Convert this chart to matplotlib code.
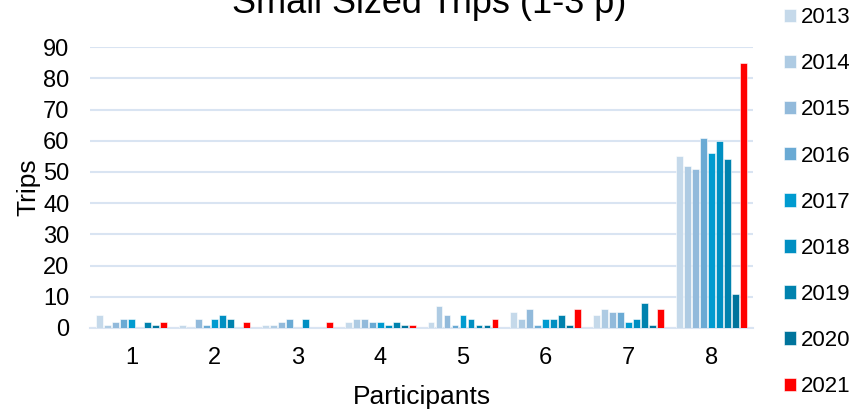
import numpy as np
import matplotlib
matplotlib.use('Agg')
from matplotlib import pyplot as plt

plt.rcParams['font.family'] = ['Liberation Sans', 'DejaVu Sans']

participants = ['1', '2', '3', '4', '5', '6', '7', '8']
years = ['2013', '2014', '2015', '2016', '2017', '2018', '2019', '2020', '2021']

# trips per participant, one list per year
trips = {
    '2013': [4, 1, 1, 2, 2, 5, 4, 55],
    '2014': [1, 0, 1, 3, 7, 3, 6, 52],
    '2015': [2, 3, 2, 3, 4, 6, 5, 51],
    '2016': [3, 1, 3, 2, 1, 1, 5, 61],
    '2017': [3, 3, 0, 2, 4, 3, 2, 56],
    '2018': [0, 4, 3, 1, 3, 3, 3, 60],
    '2019': [2, 3, 0, 2, 1, 4, 8, 54],
    '2020': [1, 0, 0, 1, 1, 1, 1, 11],
    '2021': [2, 2, 2, 1, 3, 6, 6, 85],
}
colors = ['#c5d9ea', '#aecbe3', '#92badb', '#6aaad4', '#009bd0',
          '#008fc2', '#0082ae', '#00749c', '#ff0000']

fig = plt.figure(figsize=(8.58, 4.11), dpi=100)
ax = fig.add_axes([0.105, 0.202, 0.7726, 0.6834])

x = np.arange(len(participants))
step = 0.0965
for i, yr in enumerate(years):
    offs = (i - (len(years) - 1) / 2.) * step
    ax.bar(x + offs, trips[yr], width=step * 0.86, color=colors[i],
           edgecolor='white', linewidth=0.4, label=yr, zorder=3)

ax.set_xlim(-0.5, len(participants) - 0.5)
ax.set_ylim(0, 90)
ax.set_yticks(range(0, 91, 10))
ax.set_xticks(x)
ax.set_xticklabels(participants)
ax.yaxis.grid(True, color='#d9e4f2', linewidth=1.5, zorder=0)
for s in ['top', 'right', 'left']:
    ax.spines[s].set_visible(False)
ax.spines['bottom'].set_color('#d9e4f2')
ax.spines['bottom'].set_linewidth(1.5)
ax.tick_params(axis='both', length=0, labelsize=17, colors='black')
ax.tick_params(axis='x', pad=14)
ax.tick_params(axis='y', pad=15)

ax.set_xlabel('Participants', fontsize=19, labelpad=11)
ax.set_ylabel('Trips', fontsize=19, labelpad=2)

fig.text(0.5, 1 - 13 / 411., 'Small Sized Trips (1-3 p)', fontsize=26,
         ha='center', va='baseline')

fig.legend(loc='upper left', bbox_to_anchor=(0.9035, 1.004), frameon=False,
           fontsize=16, handlelength=0.55, handleheight=0.55,
           handletextpad=0.22, labelspacing=1.13, borderaxespad=0)

fig.savefig('out.png', dpi=100)
